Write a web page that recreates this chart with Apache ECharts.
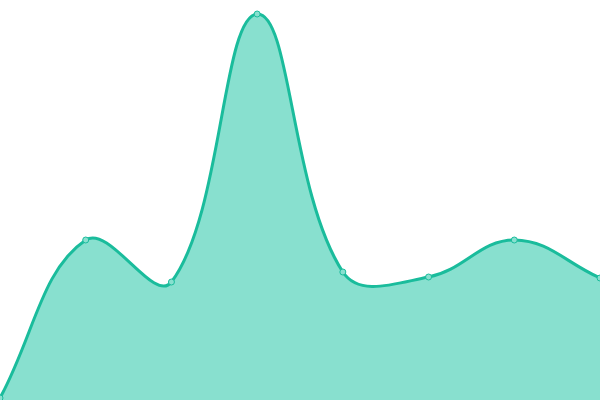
<!DOCTYPE html>
<html>
<head>
<meta charset="utf-8">
<script src="https://cdn.jsdelivr.net/npm/echarts@6/dist/echarts.min.js"></script>
<style>
  html, body { margin: 0; padding: 0; background: #fff; }
  #main { width: 600px; height: 400px; }
</style>
</head>
<body>
<div id="main"></div>
<script>
// categories and values (no axes shown)
var categories = ['1', '2', '3', '4', '5', '6', '7', '8'];
var values = [2, 160, 118, 386, 128, 123, 160, 122];

var lineColor = '#1abc9c';
var fillColor = '#88e0cf';
var tension = 0.4;

// spline control points (distance weighted, like a tension 0.4 cardinal curve)
function splinePath(pts) {
  var cps = pts.map(function (p, i) {
    var prev = pts[i - 1] || p, next = pts[i + 1] || p;
    var d01 = Math.hypot(p[0] - prev[0], p[1] - prev[1]);
    var d12 = Math.hypot(next[0] - p[0], next[1] - p[1]);
    var s01 = d01 / (d01 + d12) || 0, s12 = d12 / (d01 + d12) || 0;
    var fa = tension * s01, fb = tension * s12;
    return {
      prev: [p[0] - fa * (next[0] - prev[0]), p[1] - fa * (next[1] - prev[1])],
      next: [p[0] + fb * (next[0] - prev[0]), p[1] + fb * (next[1] - prev[1])]
    };
  });
  var d = 'M' + pts[0][0] + ' ' + pts[0][1];
  for (var i = 1; i < pts.length; i++) {
    var c1 = cps[i - 1].next, c2 = cps[i].prev;
    d += ' C' + c1[0] + ' ' + c1[1] + ' ' + c2[0] + ' ' + c2[1] + ' ' + pts[i][0] + ' ' + pts[i][1];
  }
  return d;
}

var chart = echarts.init(document.getElementById('main'));
chart.setOption({
  animation: false,
  grid: { left: 0, right: 0, top: 0, bottom: 0 },
  xAxis: {
    type: 'category',
    show: false,
    boundaryGap: false,
    data: categories
  },
  yAxis: {
    type: 'value',
    show: false,
    min: 0,
    max: 400
  },
  series: [
    {
      type: 'custom',
      data: values.map(function (v, i) { return [i, v]; }),
      renderItem: function (params, api) {
        if (params.dataIndex !== 0) return;
        var pts = values.map(function (v, i) { return api.coord([i, v]); });
        var base = api.coord([0, 0])[1];
        var curve = splinePath(pts);
        var last = pts[pts.length - 1];
        var area = curve + ' L' + last[0] + ' ' + base + ' L' + pts[0][0] + ' ' + base + ' Z';
        return {
          type: 'group',
          children: [
            { type: 'path', shape: { pathData: area }, style: { fill: fillColor, stroke: null } },
            { type: 'path', shape: { pathData: curve }, style: { fill: null, stroke: lineColor, lineWidth: 3 } }
          ]
        };
      },
      z: 1
    },
    {
      type: 'line',
      data: values,
      symbol: 'circle',
      symbolSize: 6,
      lineStyle: { width: 0, opacity: 0 },
      itemStyle: { color: fillColor, borderColor: lineColor, borderWidth: 1 },
      z: 3
    }
  ]
});
</script>
</body>
</html>
